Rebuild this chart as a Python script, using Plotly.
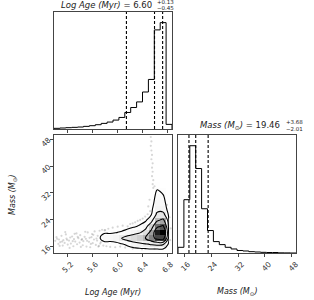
import numpy as np
import plotly.graph_objects as go

W, H = 314, 300

# ---------------- data ----------------
age_range = [4.99, 6.88]
mass_range = [14.2, 49.2]
n_bins = 20

age_hist_counts = [2, 3, 4, 5, 6, 8, 10, 13, 17, 21, 27, 35, 50, 65, 82, 112, 150, 300, 322, 14]
mass_hist_counts = [17, 159, 320, 252, 132, 67, 34, 25, 17, 12, 7.5, 6, 4, 3, 2, 1.5, 1.5, 0.5, 0.3, 0]

age_quantiles = [6.15, 6.60, 6.73]
mass_quantiles = [17.45, 19.46, 23.14]

age_ticks = [5.2, 5.6, 6.0, 6.4, 6.8]
age_ticktext = ["5.2", "5.6", "6.0", "6.4", "6.8"]
mass_ticks = [16, 24, 32, 40, 48]
mass_ticktext = ["16", "24", "32", "40", "48"]

age_title = ("6.60", "+0.13", "\u22120.45")
mass_title = ("19.46", "+3.68", "\u22122.01")

# 2D density on the 2D-histogram bins (rows: mass bins 0..11, cols: age bins 7..19)
density = [
    [0.2, 0.3, 0.3, 0.4, 0.5, 0.7, 0.9, 1.0, 1.1, 1.2, 1.2, 1.1, 0.3],
    [0.8, 1.4, 1.4, 1.5, 2.5, 4.0, 6.0, 7.5, 9.0, 11, 12, 11, 1.5],
    [2.0, 5.0, 5.0, 6.0, 10.5, 14, 17, 21, 30, 48, 70, 72, 2.5],
    [1.2, 2.5, 2.5, 2.8, 3.5, 4.5, 6.0, 8.5, 15, 38, 88, 100, 2.8],
    [0.3, 0.5, 0.6, 0.8, 1.0, 1.8, 2.5, 3.5, 5.5, 20, 55, 65, 2.5],
    [0, 0.1, 0.2, 0.3, 0.4, 0.6, 0.9, 1.5, 2.5, 6, 28, 36, 2.0],
    [0, 0, 0, 0.1, 0.2, 0.3, 0.4, 0.7, 1.2, 3.0, 12, 13, 1.5],
    [0, 0, 0, 0, 0.1, 0.1, 0.2, 0.3, 0.6, 2.0, 7, 6, 1.0],
    [0, 0, 0, 0, 0, 0, 0.1, 0.1, 0.3, 1.2, 5.5, 4.5, 0.6],
    [0, 0, 0, 0, 0, 0, 0, 0.1, 0.2, 0.8, 4.5, 3.5, 0.4],
    [0, 0, 0, 0, 0, 0, 0, 0, 0.1, 0.4, 3.5, 2.2, 0.2],
    [0, 0, 0, 0, 0, 0, 0, 0, 0, 0.2, 1.2, 0.6, 0.1],
]
density_age_bin_start = 7
density_mass_bin_start = 0
contour_levels = [3, 10, 30, 60]

sample_age = [5.01, 5.03, 5.06, 5.07, 5.09, 5.11, 5.13, 5.14, 5.16, 5.18,
              5.19, 5.21, 5.23, 5.25, 5.26, 5.28, 5.30, 5.31, 5.33, 5.35,
              5.36, 5.38, 5.40, 5.41, 5.43, 5.45, 5.46, 5.48, 5.50, 5.51,
              5.53, 5.55, 5.56, 5.58, 5.60, 5.61, 5.63, 5.64, 5.66, 5.68,
              5.69, 5.71, 5.72, 5.74, 5.76, 5.78, 5.80, 5.83, 5.86, 5.89,
              5.93, 5.97, 6.01, 6.05, 6.09, 6.13, 6.17, 6.21, 6.25, 6.29,
              6.33, 6.37, 6.41, 6.45, 6.49, 6.53,
              6.57, 6.58, 6.56, 6.57, 6.56, 6.57, 6.55, 6.56, 6.55, 6.54,
              6.55, 6.54, 6.60, 6.58,
              6.85, 6.86, 6.84, 6.80, 6.40, 6.60, 6.25, 6.50, 6.52,
              5.04, 5.12, 5.20, 5.29, 5.37, 5.44, 5.52, 5.59, 5.67, 5.73,
              5.08, 5.17, 5.24, 5.32, 5.42, 5.49, 5.57, 5.62, 5.70, 5.81]
sample_mass = [17.8, 18.9, 16.9, 18.2, 17.4, 19.3, 16.4, 18.0, 17.2, 19.7,
               18.5, 16.7, 17.9, 18.8, 17.0, 19.1, 16.2, 18.3, 17.6, 20.0,
               16.8, 18.6, 17.3, 19.5, 18.1, 16.5, 17.7, 19.0, 18.4, 16.1,
               20.3, 17.5, 18.7, 16.9, 19.8, 17.1, 18.2, 20.6, 16.6, 17.9,
               19.3, 16.3, 20.8, 17.4, 21.1, 16.4, 20.9, 16.2, 21.4, 16.0,
               21.7, 15.9, 22.0, 16.1, 22.3, 15.8, 22.1, 22.8, 23.0, 23.3,
               23.7, 24.0, 24.4, 25.0, 25.7, 26.6,
               34.6, 35.8, 37.0, 38.3, 39.5, 40.8, 42.0, 43.3, 44.6, 46.0,
               47.3, 48.6, 34.0, 33.5,
               18.0, 21.5, 24.8, 28.5, 15.3, 15.4, 15.5, 28.0, 30.0,
               18.4, 17.6, 18.1, 17.7, 19.0, 18.3, 17.8, 18.9, 18.5, 17.0,
               16.3, 20.4, 15.7, 19.9, 16.0, 20.5, 15.9, 19.6, 16.1, 21.0]

# ---------------- helpers ----------------
FONT = "DejaVu Sans"
FRAME = "#444"


def px_x(x):
    return x / W


def px_y(y):
    return 1 - y / H


age_edges = np.linspace(age_range[0], age_range[1], n_bins + 1)
mass_edges = np.linspace(mass_range[0], mass_range[1], n_bins + 1)
age_centers = 0.5 * (age_edges[:-1] + age_edges[1:])
mass_centers = 0.5 * (mass_edges[:-1] + mass_edges[1:])
grid_age = age_centers[density_age_bin_start:density_age_bin_start + len(density[0])]
grid_mass = mass_centers[density_mass_bin_start:density_mass_bin_start + len(density)]


def step_xy(edges, counts):
    xs = [edges[0]] + list(edges[:-1]) + [edges[-1], edges[-1]]
    ys = [0] + list(counts) + [counts[-1], 0]
    return xs, ys


fig = go.Figure()

# top-left: age histogram
xs, ys = step_xy(age_edges, age_hist_counts)
fig.add_trace(go.Scatter(x=xs, y=ys, mode="lines", line=dict(color="black", width=1, shape="hv"),
                         xaxis="x", yaxis="y", hoverinfo="skip", showlegend=False))

# bottom-left: samples, density, contours
fig.add_trace(go.Scatter(x=sample_age, y=sample_mass, mode="markers",
                         marker=dict(color="rgba(0,0,0,0.16)", size=2.2),
                         xaxis="x2", yaxis="y2", hoverinfo="skip", showlegend=False))
zmax = max(max(r) for r in density)
fig.add_trace(go.Heatmap(x=grid_age, y=grid_mass, z=density, zmin=0, zmax=zmax,
                         colorscale=[[0, "rgba(255,255,255,0)"], [0.04, "rgba(0,0,0,0.02)"],
                                     [0.15, "rgba(0,0,0,0.12)"], [0.4, "rgba(0,0,0,0.4)"],
                                     [0.7, "rgba(0,0,0,0.72)"], [1, "rgba(0,0,0,1)"]],
                         showscale=False, xaxis="x2", yaxis="y2", hoverinfo="skip"))
for lev in contour_levels:
    fig.add_trace(go.Contour(x=grid_age, y=grid_mass, z=density,
                             contours=dict(start=lev, end=lev, size=1, coloring="lines", showlabels=False),
                             colorscale=[[0, "black"], [1, "black"]],
                             line=dict(width=1.1, smoothing=1.2),
                             showscale=False, xaxis="x2", yaxis="y2", hoverinfo="skip"))

# bottom-right: mass histogram
xs, ys = step_xy(mass_edges, mass_hist_counts)
fig.add_trace(go.Scatter(x=xs, y=ys, mode="lines", line=dict(color="black", width=1, shape="hv"),
                         xaxis="x3", yaxis="y3", hoverinfo="skip", showlegend=False))

shapes = []
for q in age_quantiles:
    shapes.append(dict(type="line", xref="x", yref="y domain", x0=q, x1=q, y0=0, y1=1,
                       line=dict(color="black", width=1.1, dash="3px,2px")))
for q in mass_quantiles:
    shapes.append(dict(type="line", xref="x3", yref="y3 domain", x0=q, x1=q, y0=0, y1=1,
                       line=dict(color="black", width=1.1, dash="3px,2px")))

dom_x_left = [px_x(54), px_x(172)]
dom_x_right = [px_x(178), px_x(296)]
dom_y_top = [px_y(129), px_y(12)]
dom_y_bot = [px_y(253), px_y(135)]

common = dict(showline=True, linecolor=FRAME, linewidth=1, mirror=True, showgrid=False,
              zeroline=False, ticks="outside", ticklen=3, tickwidth=1, tickcolor=FRAME,
              tickfont=dict(size=7.5, color="#333", family=FONT), automargin=False)

fig.update_layout(
    width=W, height=H, margin=dict(l=0, r=0, t=0, b=0),
    paper_bgcolor="white", plot_bgcolor="white", showlegend=False,
    xaxis=dict(domain=dom_x_left, anchor="y", range=age_range, tickvals=age_ticks,
               showticklabels=False, **common),
    yaxis=dict(domain=dom_y_top, anchor="x", range=[0, 1.1 * max(age_hist_counts)],
               showticklabels=False, **{**common, "ticks": ""}),
    xaxis2=dict(domain=dom_x_left, anchor="y2", range=age_range, tickvals=age_ticks,
                ticktext=age_ticktext, tickangle=-45, ticklabelshift=4, **common),
    yaxis2=dict(domain=dom_y_bot, anchor="x2", range=mass_range, tickvals=mass_ticks,
                ticktext=mass_ticktext, tickangle=-45, **common),
    xaxis3=dict(domain=dom_x_right, anchor="y3", range=mass_range, tickvals=mass_ticks,
                ticktext=mass_ticktext, tickangle=-45, ticklabelshift=4, **common),
    yaxis3=dict(domain=dom_y_bot, anchor="x3", range=[0, 1.1 * max(mass_hist_counts)],
                showticklabels=False, **{**common, "ticks": ""}),
    shapes=shapes,
)

ann = []


def add_text(text, x, y, size=8, xanchor="center", yanchor="middle", angle=0):
    ann.append(dict(text=text, x=px_x(x), y=px_y(y), xref="paper", yref="paper",
                    xanchor=xanchor, yanchor=yanchor, showarrow=False, textangle=angle,
                    font=dict(family=FONT, size=size, color="#222")))


# titles
add_text("<i>Log Age</i> <i>(Myr)</i> = " + age_title[0], 154, 5.5, size=8.5, xanchor="right")
add_text(age_title[1], 155, 2.5, size=5.5, xanchor="left")
add_text(age_title[2], 155, 8.5, size=5.5, xanchor="left")
add_text("<i>Mass</i> <i>(M<sub>\u2299</sub>)</i> = " + mass_title[0], 282, 125, size=8.5, xanchor="right")
add_text(mass_title[1], 283.5, 122, size=5.5, xanchor="left")
add_text(mass_title[2], 283.5, 128.5, size=5.5, xanchor="left")

# axis labels
add_text("<i>Log Age</i> <i>(Myr)</i>", 113, 292, size=8)
add_text("<i>Mass</i> <i>(M<sub>\u2299</sub>)</i>", 237, 292, size=8)
add_text("<i>Mass</i> <i>(M<sub>\u2299</sub>)</i>", 13, 195, size=8, angle=-90)

fig.update_layout(annotations=ann)
fig.write_html("out.html", config={"displayModeBar": False},
               post_script="document.body.style.margin='0';document.body.style.overflow='hidden';")
